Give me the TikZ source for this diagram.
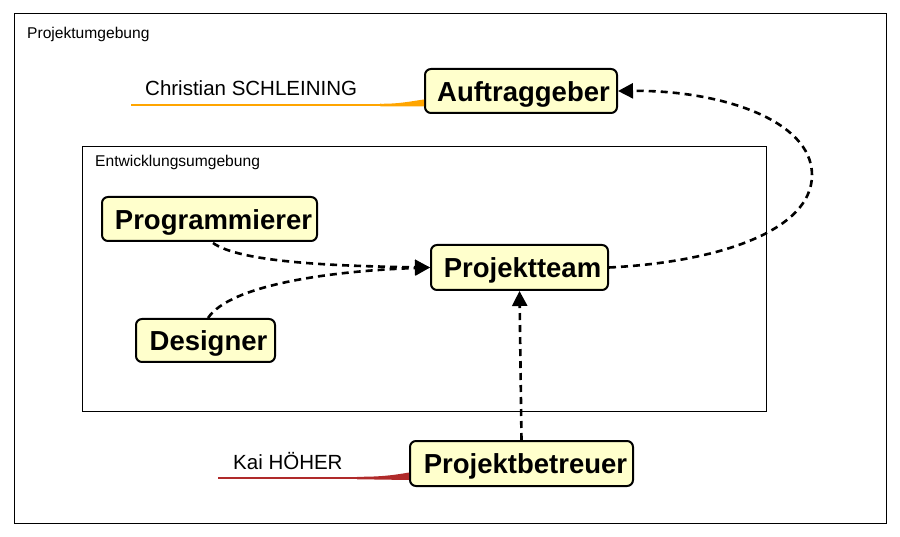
\documentclass[tikz,border=0pt]{standalone}
\usepackage{fontspec}
\setmainfont{Liberation Sans}
\usetikzlibrary{arrows.meta,calc}
\definecolor{boxfill}{HTML}{FFFFCC}
\definecolor{orangeline}{HTML}{FFA500}
\definecolor{redline}{HTML}{B02A2A}
\tikzset{
  rolebox/.style={draw, line width=2pt, rounded corners=6pt, fill=boxfill, inner sep=0pt,
    font=\bfseries\fontsize{27.5}{28}\selectfont, text height=20.5pt, text depth=0pt},
  frame/.style={draw, line width=0.9pt},
  framelabel/.style={anchor=base west, inner sep=0pt, font=\fontsize{15.6}{16}\selectfont},
  namelabel/.style={anchor=base west, inner sep=0pt, font=\fontsize{20.5}{21}\selectfont},
  flow/.style={line width=2.6pt, dash pattern=on 7pt off 5pt, -{Triangle[length=15pt,width=15pt]}}
}
\begin{document}
\begin{tikzpicture}[x=1pt,y=-1pt]
\useasboundingbox (0,0) rectangle (900,537);
\fill[white] (0,0) rectangle (900,537);
% frames
\draw[frame] (14,13) rectangle (886,523);
\node[framelabel] (pu) at (27,38.5) {Projektumgebung};
\draw[frame] (82,146) rectangle (766,411);
\node[framelabel] (eu) at (95,166.5) {Entwicklungsumgebung};
% nodes
\node[rolebox, minimum width=192pt, minimum height=44pt] (auf) at (521,91) {\hspace*{5pt}Auftraggeber};
\node[rolebox, minimum width=215pt, minimum height=44pt] (prog) at (209.5,219) {\hspace*{8pt}Programmierer};
\node[rolebox, minimum width=177pt, minimum height=45pt] (team) at (519.5,267.5) {\hspace*{6pt}Projektteam};
\node[rolebox, minimum width=139pt, minimum height=43pt] (des) at (205.5,340.5) {\hspace*{6pt}Designer};
\node[rolebox, minimum width=223pt, minimum height=45pt] (betr) at (521.5,463.5) {\hspace*{8pt}Projektbetreuer};
% name labels
\node[namelabel] (cs) at (145,96) {Christian SCHLEINING};
\node[namelabel] (kh) at (233,469) {Kai HÖHER};
\coordinate (csl) at (131,105);
\coordinate (csr) at (380,105);
\coordinate (khl) at (218,478);
\coordinate (khr) at (357,478);
\draw[orangeline, line width=2.5pt] (csl) -- (csr);
\fill[orangeline] ($(csr)+(0,-1.25)$) .. controls (400,104) and (412,101) .. (auf.west |- 0,99.5) -- (auf.west |- 0,106.5) -- ($(csr)+(0,1.25)$) -- cycle;
\draw[redline, line width=2.5pt] (khl) -- (khr);
\fill[redline] ($(khr)+(0,-1.25)$) .. controls (380,477) and (395,475) .. (betr.west |- 0,472.5) -- (betr.west |- 0,480) -- ($(khr)+(0,1.25)$) -- cycle;
% connectors
\coordinate (pstart) at (213,243);
\coordinate (dstart) at (208,318);
\draw[flow] (pstart) .. controls (240,262) and (330,266) .. (team.west);
\draw[flow] (dstart) .. controls (230,285) and (330,271) .. (team.west);
\draw[flow] (betr.north) -- (team.south);
\coordinate (loop) at (812,175);
\draw[line width=2.6pt, dash pattern=on 7pt off 5pt] (team.east) .. controls (720,262) and (812,230) .. (loop);
\draw[flow] (loop) .. controls (812,120) and (720,90) .. (auf.east);
\end{tikzpicture}
\end{document}
